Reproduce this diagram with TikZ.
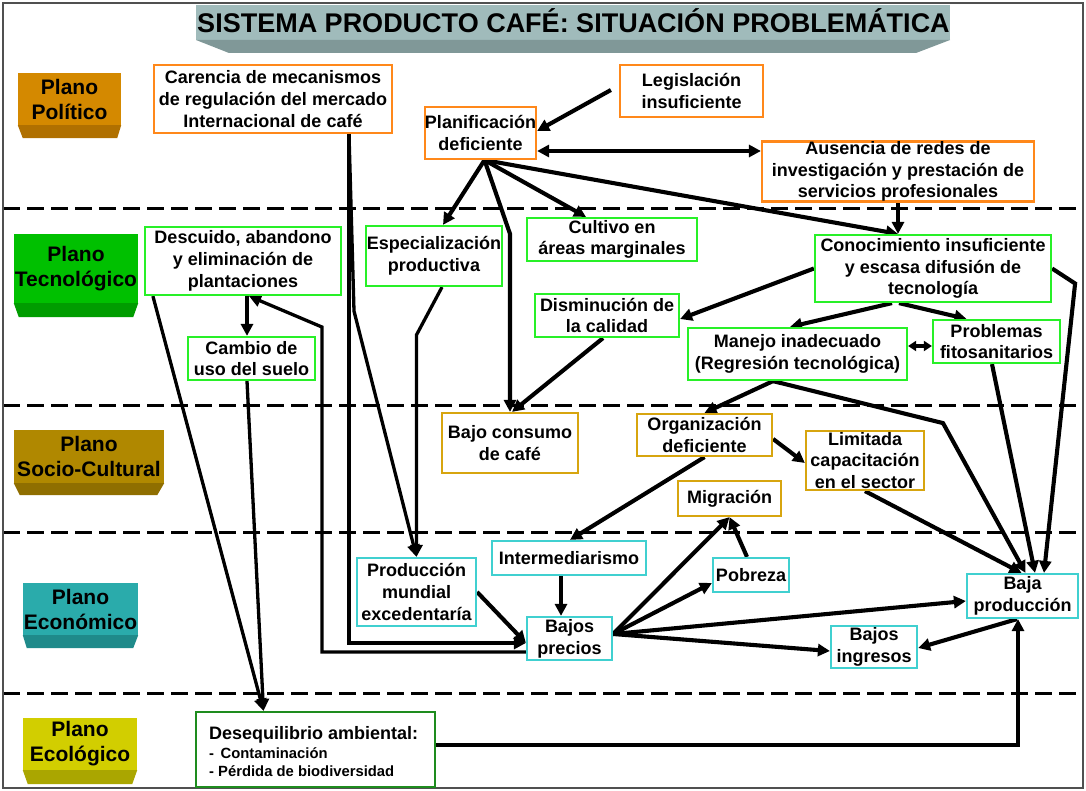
\documentclass[tikz,border=0pt]{standalone}
\usepackage{fontspec}
\setmainfont{Liberation Sans}
\usetikzlibrary{arrows.meta,calc}
\pgfdeclarelayer{back}
\pgfdeclarelayer{bg}
\pgfsetlayers{back,bg,main}
\definecolor{corange}{RGB}{255,136,26}
\definecolor{cgreen}{RGB}{40,240,40}
\definecolor{cgold}{RGB}{215,165,15}
\definecolor{ccyan}{RGB}{64,208,208}
\definecolor{cdkgreen}{RGB}{30,140,30}
\definecolor{cpol}{RGB}{212,137,0}
\definecolor{cpolD}{RGB}{176,112,0}
\definecolor{ctec}{RGB}{0,192,0}
\definecolor{ctecD}{RGB}{0,156,0}
\definecolor{csoc}{RGB}{176,136,0}
\definecolor{csocD}{RGB}{143,110,0}
\definecolor{ceco}{RGB}{42,171,171}
\definecolor{cecoD}{RGB}{31,138,138}
\definecolor{cecol}{RGB}{210,206,0}
\definecolor{cecolD}{RGB}{170,166,0}
\definecolor{ctitle}{RGB}{160,187,187}
\definecolor{ctitleD}{RGB}{128,152,152}
\definecolor{cframe}{RGB}{80,80,80}
\tikzset{
  box/.style={draw, line width=2.2pt, fill=white, inner sep=0pt, align=center,
    font=\bfseries\fontsize{18}{21.7}\selectfont},
  obox/.style={box, draw=corange},
  gbox/.style={box, draw=cgreen},
  ybox/.style={box, draw=cgold},
  cbox/.style={box, draw=ccyan},
  plane/.style={inner sep=0pt, align=center, font=\bfseries\fontsize{21}{25}\selectfont},
  conn/.style={line width=4.1pt, -{Triangle[length=12pt,width=12pt]}},
  thinconn/.style={conn, line width=3.3pt},
  conntwo/.style={line width=4.1pt, {Triangle[length=12pt,width=12pt]}-{Triangle[length=12pt,width=12pt]}},
  connshort/.style={line width=4.1pt, {Triangle[length=8pt,width=10pt]}-{Triangle[length=8pt,width=10pt]}},
  sepline/.style={line width=3pt, dash pattern=on 17pt off 7pt},
}
\begin{document}
\begin{tikzpicture}[x=1pt,y=-1pt]
\useasboundingbox (0,0) rectangle (1086,791);
\begin{pgfonlayer}{back}
\fill[white] (0,0) rectangle (1086,791);
\end{pgfonlayer}
\draw[line width=1.5pt, cframe] (3,3) rectangle (1083,788);

% title
\fill[ctitle] (196,5) rectangle (950,40);
\fill[ctitleD] (196,40) -- (950,40) -- (916,53) -- (229,53) -- cycle;
\node[anchor=base, inner sep=0pt, font=\bfseries\fontsize{27}{32}\selectfont] (title) at (573.5,33) {SISTEMA PRODUCTO CAFÉ: SITUACIÓN PROBLEMÁTICA};

% plane labels
\node[plane, fill=cpol, minimum width=103pt, minimum height=52pt] (ppol) at (69.5,99) {Plano\\Político};
\fill[cpolD] (ppol.south west) -- (ppol.south east) -- ($(ppol.south east)+(-4,13)$) -- ($(ppol.south west)+(5,13)$) -- cycle;
\node[plane, fill=ctec, minimum width=124pt, minimum height=69pt] (ptec) at (76,268.5) {Plano\\Tecnológico};
\fill[ctecD] (ptec.south west) -- (ptec.south east) -- ($(ptec.south east)+(-5,14)$) -- ($(ptec.south west)+(5,14)$) -- cycle;
\node[plane, fill=csoc, minimum width=150pt, minimum height=53pt] (psoc) at (89,456.5) {Plano\\Socio-Cultural};
\fill[csocD] (psoc.south west) -- (psoc.south east) -- ($(psoc.south east)+(-7,12)$) -- ($(psoc.south west)+(6,12)$) -- cycle;
\node[plane, fill=ceco, minimum width=115pt, minimum height=52pt] (peco) at (80.5,609) {Plano\\Económico};
\fill[cecoD] (peco.south west) -- (peco.south east) -- ($(peco.south east)+(-5,13)$) -- ($(peco.south west)+(4,13)$) -- cycle;
\node[plane, fill=cecol, minimum width=114pt, minimum height=52pt] (pecol) at (80,744) {Plano\\Ecológico};
\fill[cecolD] (pecol.south west) -- (pecol.south east) -- ($(pecol.south east)+(-5,14)$) -- ($(pecol.south west)+(5,14)$) -- cycle;

% orange boxes
\node[obox, minimum width=238pt, minimum height=68pt] (carencia) at (273,99) {Carencia de mecanismos\\de regulación del mercado\\Internacional de café};
\node[obox, minimum width=143pt, minimum height=52pt] (legis) at (691.5,91) {Legislación\\insuficiente};
\node[obox, minimum width=111pt, minimum height=52pt] (plan) at (480.5,133) {Planificación\\deficiente};
\node[obox, minimum width=272pt, minimum height=59pt] (ausencia) at (898,171.5) {Ausencia de redes de\\investigación y prestación de\\servicios profesionales};

% green boxes
\node[gbox, minimum width=196pt, minimum height=68pt] (descuido) at (243,261) {Descuido, abandono\\y eliminación de\\plantaciones};
\node[gbox, minimum width=136pt, minimum height=60pt] (espec) at (434,256) {Especialización\\productiva};
\node[gbox, minimum width=170pt, minimum height=43pt] (cultivo) at (612,239.5) {Cultivo en\\áreas marginales};
\node[gbox, minimum width=236pt, minimum height=67pt] (conoc) at (933,268.5) {Conocimiento insuficiente\\y escasa difusión de\\tecnología};
\node[gbox, minimum width=144pt, minimum height=43pt] (dismin) at (607,315.5) {Disminución de\\la calidad};
\node[gbox, minimum width=127pt, minimum height=43pt] (cambio) at (251.5,358.5) {Cambio de\\uso del suelo};
\node[gbox, minimum width=219pt, minimum height=52pt] (manejo) at (797.5,354) {Manejo inadecuado\\(Regresión tecnológica)};
\node[gbox, minimum width=127pt, minimum height=43pt] (problemas) at (996.5,341.5) {Problemas\\fitosanitarios};

% gold boxes
\node[ybox, minimum width=136pt, minimum height=60pt] (consumo) at (510,443) {Bajo consumo\\de café};
\node[ybox, minimum width=135pt, minimum height=42pt] (organiz) at (704.5,435) {Organización\\deficiente};
\node[ybox, minimum width=118pt, minimum height=59pt] (limitada) at (865,460.5) {Limitada\\capacitación\\en el sector};
\node[ybox, minimum width=103pt, minimum height=35pt] (migracion) at (729.5,498.5) {Migración};

% cyan boxes
\node[cbox, minimum width=119pt, minimum height=68pt] (produccion) at (416.5,592) {Producción\\mundial\\excedentaría};
\node[cbox, minimum width=154pt, minimum height=34pt] (interm) at (569,558) {Intermediarismo};
\node[cbox, minimum width=85pt, minimum height=43pt] (precios) at (569.5,638.5) {Bajos\\precios};
\node[cbox, minimum width=76pt, minimum height=34pt] (pobreza) at (751,575) {Pobreza};
\node[cbox, minimum width=111pt, minimum height=44pt] (bajaprod) at (1022.5,596) {Baja\\producción};
\node[cbox, minimum width=86pt, minimum height=42pt] (ingresos) at (874,647) {Bajos\\ingresos};

% ecological box
\node[draw=cdkgreen, line width=2.2pt, fill=white, minimum width=239pt, minimum height=75pt, inner sep=0pt] (deseq) at (315.5,749.5) {};
\node[anchor=base west, inner sep=0pt, font=\bfseries\fontsize{18}{20}\selectfont] (deseqA) at (209,739.5) {Desequilibrio ambiental:};
\node[anchor=base west, inner sep=0pt, font=\bfseries\fontsize{14.8}{17}\selectfont] (deseqB) at (209,758) {-\, Contaminación};
\node[anchor=base west, inner sep=0pt, font=\bfseries\fontsize{14.8}{17}\selectfont] (deseqC) at (209,776) {- Pérdida de biodiversidad};

\begin{pgfonlayer}{bg}
\foreach \yy in {209,405,532,693} \draw[sepline] (3,\yy) -- (1083,\yy);

\coordinate (po) at ($(plan.south)+(4,0)$);
\coordinate (cs) at ($(carencia.south)+(76,0)$);
\coordinate (pe) at ($(precios.east)+(0,-4.5)$);
\coordinate (ms) at ($(manejo.south)+(-24.5,0)$);
\coordinate (dn) at ($(deseq.north)+(-52,0)$);
\coordinate (cn) at ($(conoc.north)+(-35,0)$);

\draw[conn] ($(legis.west)+(-8,-1)$) -- ($(plan.east)+(0,-2)$);
\draw[conntwo] ($(plan.east)+(0,18)$) -- ($(ausencia.west)+(0,-20.5)$);
\draw[conn] (po) -- ($(espec.north)+(9,0)$);
\draw[conn] (po) -- ($(cultivo.north)+(-26,0)$);
\draw[conn] (po) -- ($(consumo.north)+(0,-178)$) -- (consumo.north);
\draw[conn] (po) -- (cn);
\draw[conn] (ausencia.south) -- (cn);
\draw[thinconn] (cs) -- ($(cs)+(5,177)$) -- (produccion.north);
\draw[conn] (cs) |- ($(precios.west)+(0,4.5)$);
\draw[thinconn] ($(espec.south)+(8,0)$) -- ($(produccion.north)+(0,-222)$) -- (produccion.north);
\draw[conn] ($(descuido.south)+(4,0)$) -- ($(cambio.north)+(-4.5,0)$);
\draw[thinconn] ($(precios.west)+(0,13.5)$) -- ++(-204,0) -- ++(0,-325) -- ($(descuido.south)+(6,0)$);
\draw[thinconn] ($(cambio.south)+(-4.5,0)$) -- (dn);
\draw[thinconn] ($(descuido.south west)+(9,0)$) -- (dn);
\draw[conn] (conoc.west) -- ($(dismin.east)+(0,3.5)$);
\draw[conn] ($(conoc.south)+(-41,0)$) -- ($(manejo.north)+(-7.5,0)$);
\draw[conn] ($(conoc.south)+(-34,0)$) -- ($(problemas.north)+(-30,0)$);
\draw[connshort] ($(manejo.east)+(0,-8)$) -- ($(problemas.west)+(0,4.5)$);
\draw[conn] (ms) -- ($(ms)+(170,42)$) -- ($(bajaprod.north)+(3,0)$);
\draw[conn] (ms) -- (organiz.north);
\draw[conn] ($(problemas.south)+(-4.5,0)$) -- ($(bajaprod.north)+(12.5,0)$);
\draw[conn] (conoc.east) -- ($(conoc.east)+(23,15)$) -- ($(bajaprod.north)+(21.5,0)$);
\draw[conn] ($(dismin.south)+(-4,0)$) -- ($(consumo.north)+(2,0)$);
\draw[conn] ($(organiz.east)+(0,4)$) -- ($(limitada.west)+(0,2.5)$);
\draw[conn] (organiz.south) -- ($(interm.north)+(1,0)$);
\draw[conn] (limitada.south) -- ($(bajaprod.north)+(-1,0)$);
\draw[conn] ($(interm.south)+(-8,0)$) -- ($(precios.north)+(-8.5,0)$);
\draw[conn] (produccion.east) -- ($(precios.west)+(0,4.5)$);
\draw[conn] (pe) -- (migracion.south);
\draw[conn] (pe) -- ($(pobreza.west)+(0,8)$);
\draw[conn] ($(pobreza.north)+(-4,0)$) -- (migracion.south);
\draw[conn] (pe) -- ($(bajaprod.west)+(0,5)$);
\draw[conn] (pe) -- ($(ingresos.west)+(0,4)$);
\draw[conn] ($(bajaprod.south)+(-5.5,0)$) -- ($(ingresos.east)+(0,1)$);
\draw[conn] ($(deseq.east)+(0,-4.5)$) -| ($(bajaprod.south)+(-4.5,0)$);
\end{pgfonlayer}
\end{tikzpicture}
\end{document}
